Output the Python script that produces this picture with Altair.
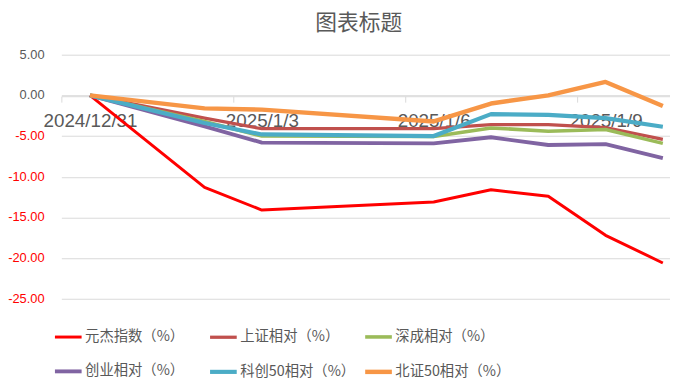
import altair as alt
import pandas as pd

dates = ["2024-12-31", "2025-01-02", "2025-01-03", "2025-01-06",
         "2025-01-07", "2025-01-08", "2025-01-09", "2025-01-10"]
series_names = ["元杰指数（%）", "上证相对（%）", "深成相对（%）",
                "创业相对（%）", "科创50相对（%）", "北证50相对（%）"]
yuanjie = [0, -11.3, -14.1, -13.1, -11.6, -12.4, -17.2, -20.6]
shangzheng = [0, -2.8, -4.1, -4.1, -3.6, -3.6, -3.95, -5.4]
shencheng = [0, -3.2, -5.0, -5.05, -4.0, -4.4, -4.2, -5.9]
chuangye = [0, -3.8, -5.8, -5.9, -5.15, -6.1, -6.0, -7.7]
kechuang50 = [0, -3.4, -4.8, -5.0, -2.3, -2.4, -2.8, -3.85]
beizheng50 = [0, -1.6, -1.75, -3.2, -1.0, 0.0, 1.65, -1.3]
colors = ["#FF0000", "#C0504D", "#9BBB59", "#8064A2", "#4BACC6", "#F79646"]
widths = [3, 4.5, 4.5, 4.5, 4.5, 4.5]
y_ticks = [5, 0, -5, -10, -15, -20, -25]
label_colors = ["#FF0000", "#595959"]

all_series = [yuanjie, shangzheng, shencheng, chuangye, kechuang50, beizheng50]
rows = []
for name, vals in zip(series_names, all_series):
    for d, v in zip(dates, vals):
        rows.append({"date": d, "series": name, "value": v})
df = pd.DataFrame(rows)
tick_df = pd.DataFrame({"value": [float(v) for v in y_ticks]})

x_domain = [alt.DateTime(year=2024, month=12, date=30, hours=12, utc=True),
            alt.DateTime(year=2025, month=1, date=10, hours=3, utc=True)]
# tick marks sit on the boundaries between day slots; labels are shifted to the day centre
tick_vals = [alt.DateTime(year=2024, month=12, date=30, hours=12, utc=True),
             alt.DateTime(year=2025, month=1, date=2, hours=12, utc=True),
             alt.DateTime(year=2025, month=1, date=5, hours=12, utc=True),
             alt.DateTime(year=2025, month=1, date=8, hours=12, utc=True)]

xscale = alt.Scale(type="utc", domain=x_domain)
yscale = alt.Scale(domain=[-25, 5], nice=False, zero=False)
yaxis = alt.Axis(values=y_ticks, title=None, domain=False, ticks=False, labels=False,
                 gridColor="#D9D9D9", gridWidth=1)

lines = alt.Chart(df).mark_line(strokeJoin="round").encode(
    x=alt.X("date:T", scale=xscale,
            axis=alt.Axis(values=tick_vals, title=None, grid=False,
                          ticks=True, tickSize=6, tickColor="#D9D9D9",
                          domain=True, domainColor="#D9D9D9", offset=-205,
                          labelExpr="utcFormat(datum.value + 43200000, '%Y/%-m/%-d')",
                          labelOffset=29,
                          labelFont="Liberation Sans", labelFontSize=19,
                          labelColor="#595959", labelPadding=10,
                          labelOverlap=False, labelFlush=False)),
    y=alt.Y("value:Q", scale=yscale, axis=yaxis),
    color=alt.Color("series:N", sort=series_names,
                    scale=alt.Scale(domain=series_names, range=colors),
                    legend=alt.Legend(title=None, orient="none", legendX=-9, legendY=269,
                                      direction="horizontal", columns=3, gridAlign="all",
                                      columnPadding=0, rowPadding=11,
                                      symbolType="stroke", symbolSize=729,
                                      symbolStrokeWidth=4, labelOffset=1,
                                      labelFont="Noto Sans CJK SC", labelFontSize=14.5,
                                      labelColor="#595959", labelLimit=300)),
    strokeWidth=alt.StrokeWidth("series:N", sort=series_names,
                                scale=alt.Scale(domain=series_names, range=widths),
                                legend=None),
)

# y-axis tick labels: negatives shown in red as in the reference
ylabels = alt.Chart(tick_df).transform_calculate(
    lab="(datum.value < 0 ? '-' : '') + format(abs(datum.value), '.2f')",
    sign="datum.value < 0 ? 'neg' : 'pos'",
).mark_text(align="right", baseline="middle", font="Liberation Sans", fontSize=13).encode(
    x=alt.value(-17),
    y=alt.Y("value:Q", scale=yscale, axis=yaxis),
    text="lab:N",
    fill=alt.Fill("sign:N", scale=alt.Scale(domain=["neg", "pos"], range=label_colors),
                  legend=None),
)

chart = alt.layer(lines, ylabels).properties(
    width=616, height=247,
    autosize=alt.AutoSizeParams(type="none"),
    padding={"left": 54, "top": 45, "right": 0, "bottom": 84},
    title=alt.TitleParams("图表标题", font="Noto Sans CJK SC", fontSize=22,
                          fontWeight="normal", color="#595959", anchor="middle",
                          frame="group", dx=-7, offset=14),
).configure_view(stroke=None)

chart.save("out.html", embed_options={"renderer": "svg", "actions": False})
